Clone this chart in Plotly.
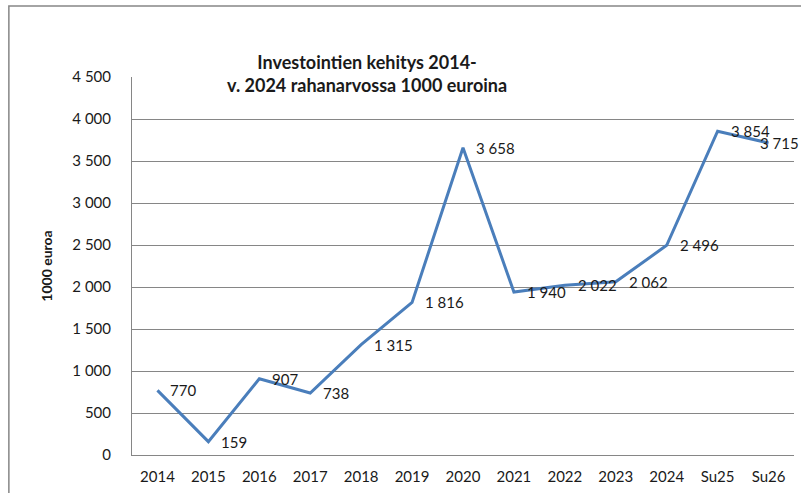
import plotly.graph_objects as go

categories = ["2014", "2015", "2016", "2017", "2018", "2019", "2020", "2021", "2022", "2023", "2024", "Su25", "Su26"]
values = [770, 159, 907, 738, 1315, 1816, 3658, 1940, 2022, 2062, 2496, 3854, 3715]
y_ticks = [0, 500, 1000, 1500, 2000, 2500, 3000, 3500, 4000, 4500]

def fmt(v):
    return f"{v:,}".replace(",", " ")

FONT = "Lato, Calibri, sans-serif"
TXT = "#1a1a1a"

fig = go.Figure()
fig.add_trace(go.Scatter(
    x=categories, y=values, mode="lines",
    line=dict(color="#4A7EBB", width=3),
    showlegend=False, cliponaxis=False, hoverinfo="skip",
))

annotations = []
for i, v in enumerate(values):
    last = i == len(values) - 1
    annotations.append(dict(
        x=i, y=v, xref="x", yref="y", text=fmt(v), showarrow=False,
        xanchor="left", yanchor="middle", xshift=-11 if last else 11,
        font=dict(family=FONT, size=15, color=TXT)))
annotations.append(dict(
    text="<b>Investointien kehitys 2014-</b><br><b>v. 2024 rahanarvossa 1000 euroina</b>",
    xref="paper", yref="paper", x=0.355, y=1.009, xanchor="center", yanchor="middle",
    showarrow=False, align="center", font=dict(family=FONT, size=18, color=TXT)))

fig.update_layout(
    width=801, height=493,
    margin=dict(l=132, r=7, t=77, b=38, autoexpand=False),
    paper_bgcolor="white", plot_bgcolor="white",
    font=dict(family=FONT, size=15, color=TXT),
    xaxis=dict(type="category", showgrid=False, showline=True, linecolor="#868686", linewidth=1,
               ticks="", ticklabelstandoff=8, tickfont=dict(size=15), range=[-0.5, 12.5],
               automargin=False),
    yaxis=dict(range=[0, 4500], tickvals=y_ticks, ticktext=[fmt(v) for v in y_ticks],
               showgrid=True, gridcolor="#868686", gridwidth=1, showline=True,
               linecolor="#868686", linewidth=1, ticks="", ticklabelstandoff=17,
               zeroline=False, tickfont=dict(size=15), automargin=False,
               title=dict(text="<b>1000 euroa</b>", font=dict(size=14), standoff=16)),
    shapes=[dict(type="rect", xref="paper", yref="paper", x0=-0.186, x1=1.05, y0=-0.13, y1=1.188,
                 line=dict(color="#868686", width=1.5), layer="below")],
    annotations=annotations,
)

fig.write_html("out.html", config={"displayModeBar": False},
               post_script="document.body.style.margin='0';document.body.style.overflow='hidden';")
